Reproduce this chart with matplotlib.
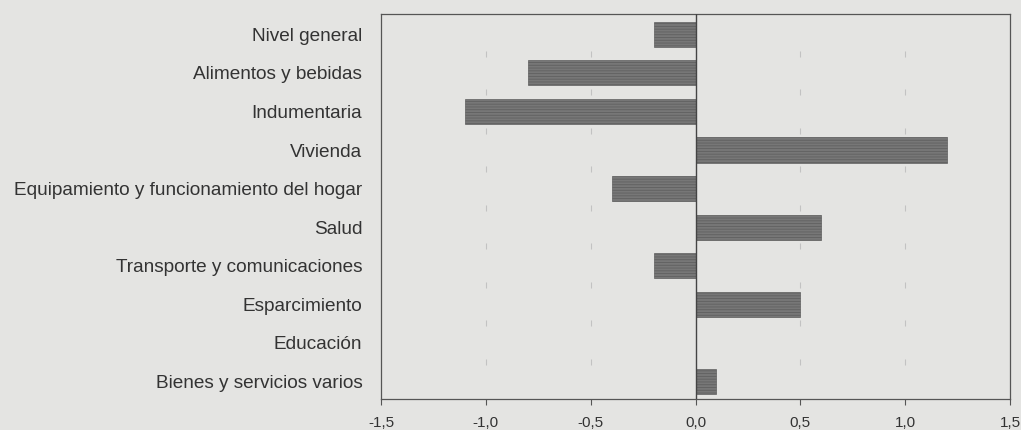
import matplotlib
matplotlib.use("Agg")
import matplotlib.pyplot as plt

categories = ["Nivel general", "Alimentos y bebidas", "Indumentaria", "Vivienda",
              "Equipamiento y funcionamiento del hogar", "Salud",
              "Transporte y comunicaciones", "Esparcimiento", "Educación",
              "Bienes y servicios varios"]
values = [-0.2, -0.8, -1.1, 1.2, -0.4, 0.6, -0.2, 0.5, 0.0, 0.1]
xticks = [-1.5, -1.0, -0.5, 0.0, 0.5, 1.0, 1.5]
xticklabels = ["-1,5", "-1,0", "-0,5", "0,0", "0,5", "1,0", "1,5"]
grid_x = [-1.0, -0.5, 0.5, 1.0]

plt.rcParams['font.family'] = ['Liberation Sans', 'DejaVu Sans']
plt.rcParams['hatch.color'] = '#5a5a5a'
plt.rcParams['hatch.linewidth'] = 0.6

bg = '#e4e4e2'
fig = plt.figure(figsize=(10.21, 4.30), dpi=100, facecolor=bg)
ax = fig.add_axes([381/1021, 1 - 398.5/430, (1010-381)/1021, (398.5-14)/430])
ax.set_facecolor(bg)

n = len(categories)
ypos = list(range(n))
ax.barh(ypos, values, height=0.65, color='#777777', edgecolor='#606060',
        linewidth=0.5, hatch='------', zorder=3)

ax.set_xlim(-1.5, 1.5)
ax.set_ylim(n - 1 + 0.45, -0.53)
ax.set_yticks(ypos)
ax.set_yticklabels(categories, fontsize=13.7, color='#333333')
ax.set_xticks(xticks)
ax.set_xticklabels(xticklabels, fontsize=11, color='#333333')
ax.tick_params(axis='y', length=0, pad=13.5)
ax.tick_params(axis='x', direction='out', length=4, color='#555555', pad=8.5)

# faint short grid marks between categories
for x in grid_x:
    ax.vlines([x] * (n - 1), [i + 0.42 for i in range(n - 1)],
              [i + 0.58 for i in range(n - 1)], color='#c2c2c2',
              linewidth=0.8, zorder=1)
ax.axvline(0, color='#444444', linewidth=1.0, zorder=4)

for s in ax.spines.values():
    s.set_color('#555555')
    s.set_linewidth(0.9)

fig.savefig("out.png", dpi=100, facecolor=bg)
